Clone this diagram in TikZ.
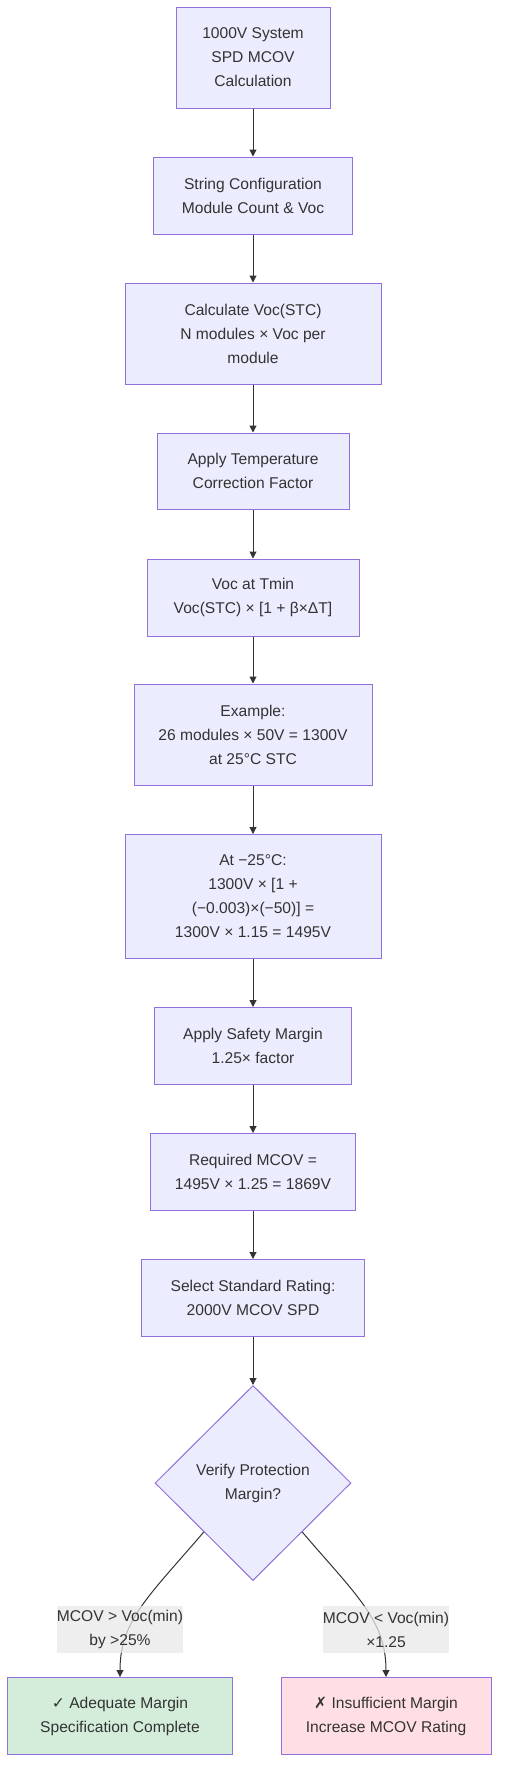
\documentclass[tikz,border=0pt]{standalone}
\usepackage{fontspec}
\setmainfont{Liberation Sans}
\newfontfamily\symfont{DejaVu Sans}
\usetikzlibrary{shapes.geometric,arrows.meta}
\definecolor{nodefill}{HTML}{ECECFF}
\definecolor{nodestroke}{HTML}{9370DB}
\definecolor{txt}{HTML}{333333}
\definecolor{edgecol}{HTML}{333333}
\definecolor{lblbg}{HTML}{E8E8E8}
\definecolor{okfill}{HTML}{D4EDDA}
\definecolor{badfill}{HTML}{FFDFE3}
\tikzset{
  box/.style={draw=nodestroke, fill=nodefill, line width=1pt, rectangle, inner sep=0pt,
    align=center, text=txt, font=\fontsize{15.6}{24}\selectfont},
  dia/.style={draw=nodestroke, fill=nodefill, line width=1pt, diamond, inner sep=0pt,
    align=center, text=txt, font=\fontsize{15.6}{24}\selectfont},
  elabel/.style={fill=lblbg, fill opacity=0.75, text opacity=1, inner sep=0pt, align=center,
    text=txt, font=\fontsize{15.6}{24}\selectfont},
  arr/.style={draw=edgecol, line width=1pt, -{Triangle[width=7pt,length=7pt]}},
}
\begin{document}
\begin{tikzpicture}[x=1pt,y=-1pt]
\useasboundingbox (0,0) rectangle (507,1791);
\node[box, minimum width=154pt, minimum height=101pt] (n1) at (253,57.5) {1000V System\\SPD MCOV\\Calculation};
\node[box, minimum width=199pt, minimum height=77pt] (n2) at (253,195.5) {String Configuration\\Module Count \& Voc};
\node[box, minimum width=256pt, minimum height=101pt] (n3) at (253,333.5) {Calculate Voc(STC)\\N modules × Voc per\\module};
\node[box, minimum width=192pt, minimum height=76pt] (n4) at (253,471) {Apply Temperature\\Correction Factor};
\node[box, minimum width=212pt, minimum height=77pt] (n5) at (253,597.5) {Voc at Tmin\\Voc(STC) × [1 + β×ΔT]};
\node[box, minimum width=238pt, minimum height=101pt] (n6) at (253,734.5) {Example:\\26 modules × 50V = 1300V\\at 25°C STC};
\node[box, minimum width=256pt, minimum height=124pt] (n7) at (253,896.5) {At −25°C:\\1300V × [1 +\\(−0.003)×(−50)] =\\1300V × 1.15 = 1495V};
\node[box, minimum width=197pt, minimum height=77pt] (n8) at (253,1046) {Apply Safety Margin\\1.25× factor};
\node[box, minimum width=205pt, minimum height=77pt] (n9) at (253,1172) {Required MCOV =\\1495V × 1.25 = 1869V};
\node[box, minimum width=223pt, minimum height=77pt] (n10) at (253,1298) {Select Standard Rating:\\2000V MCOV SPD};
\node[dia, minimum width=196pt, minimum height=195pt] (d) at (253,1483) {Verify Protection\\Margin?};
\node[box, fill=okfill, minimum width=225pt, minimum height=77pt] (ok) at (120,1716) {{\symfont ✓} Adequate Margin\\Specification Complete};
\node[box, fill=badfill, minimum width=210pt, minimum height=77pt] (bad) at (386,1716) {{\symfont ✗} Insufficient Margin\\Increase MCOV Rating};
\draw[arr] (n1) -- (n2);
\draw[arr] (n2) -- (n3);
\draw[arr] (n3) -- (n4);
\draw[arr] (n4) -- (n5);
\draw[arr] (n5) -- (n6);
\draw[arr] (n6) -- (n7);
\draw[arr] (n7) -- (n8);
\draw[arr] (n8) -- (n9);
\draw[arr] (n9) -- (n10);
\draw[arr] (n10) -- (d);
\draw[arr] (d.south west) .. controls (150,1595) and (120,1620) .. (ok.north);
\draw[arr] (d.south east) .. controls (356,1595) and (386,1620) .. (bad.north);
\node[elabel, minimum width=120pt, minimum height=47pt] (l1) at (120,1629.5) {MCOV > Voc(min)\\by >25\%};
\node[elabel, minimum width=120pt, minimum height=47pt] (l2) at (386,1629.5) {MCOV < Voc(min)\\×1.25};
\end{tikzpicture}
\end{document}
